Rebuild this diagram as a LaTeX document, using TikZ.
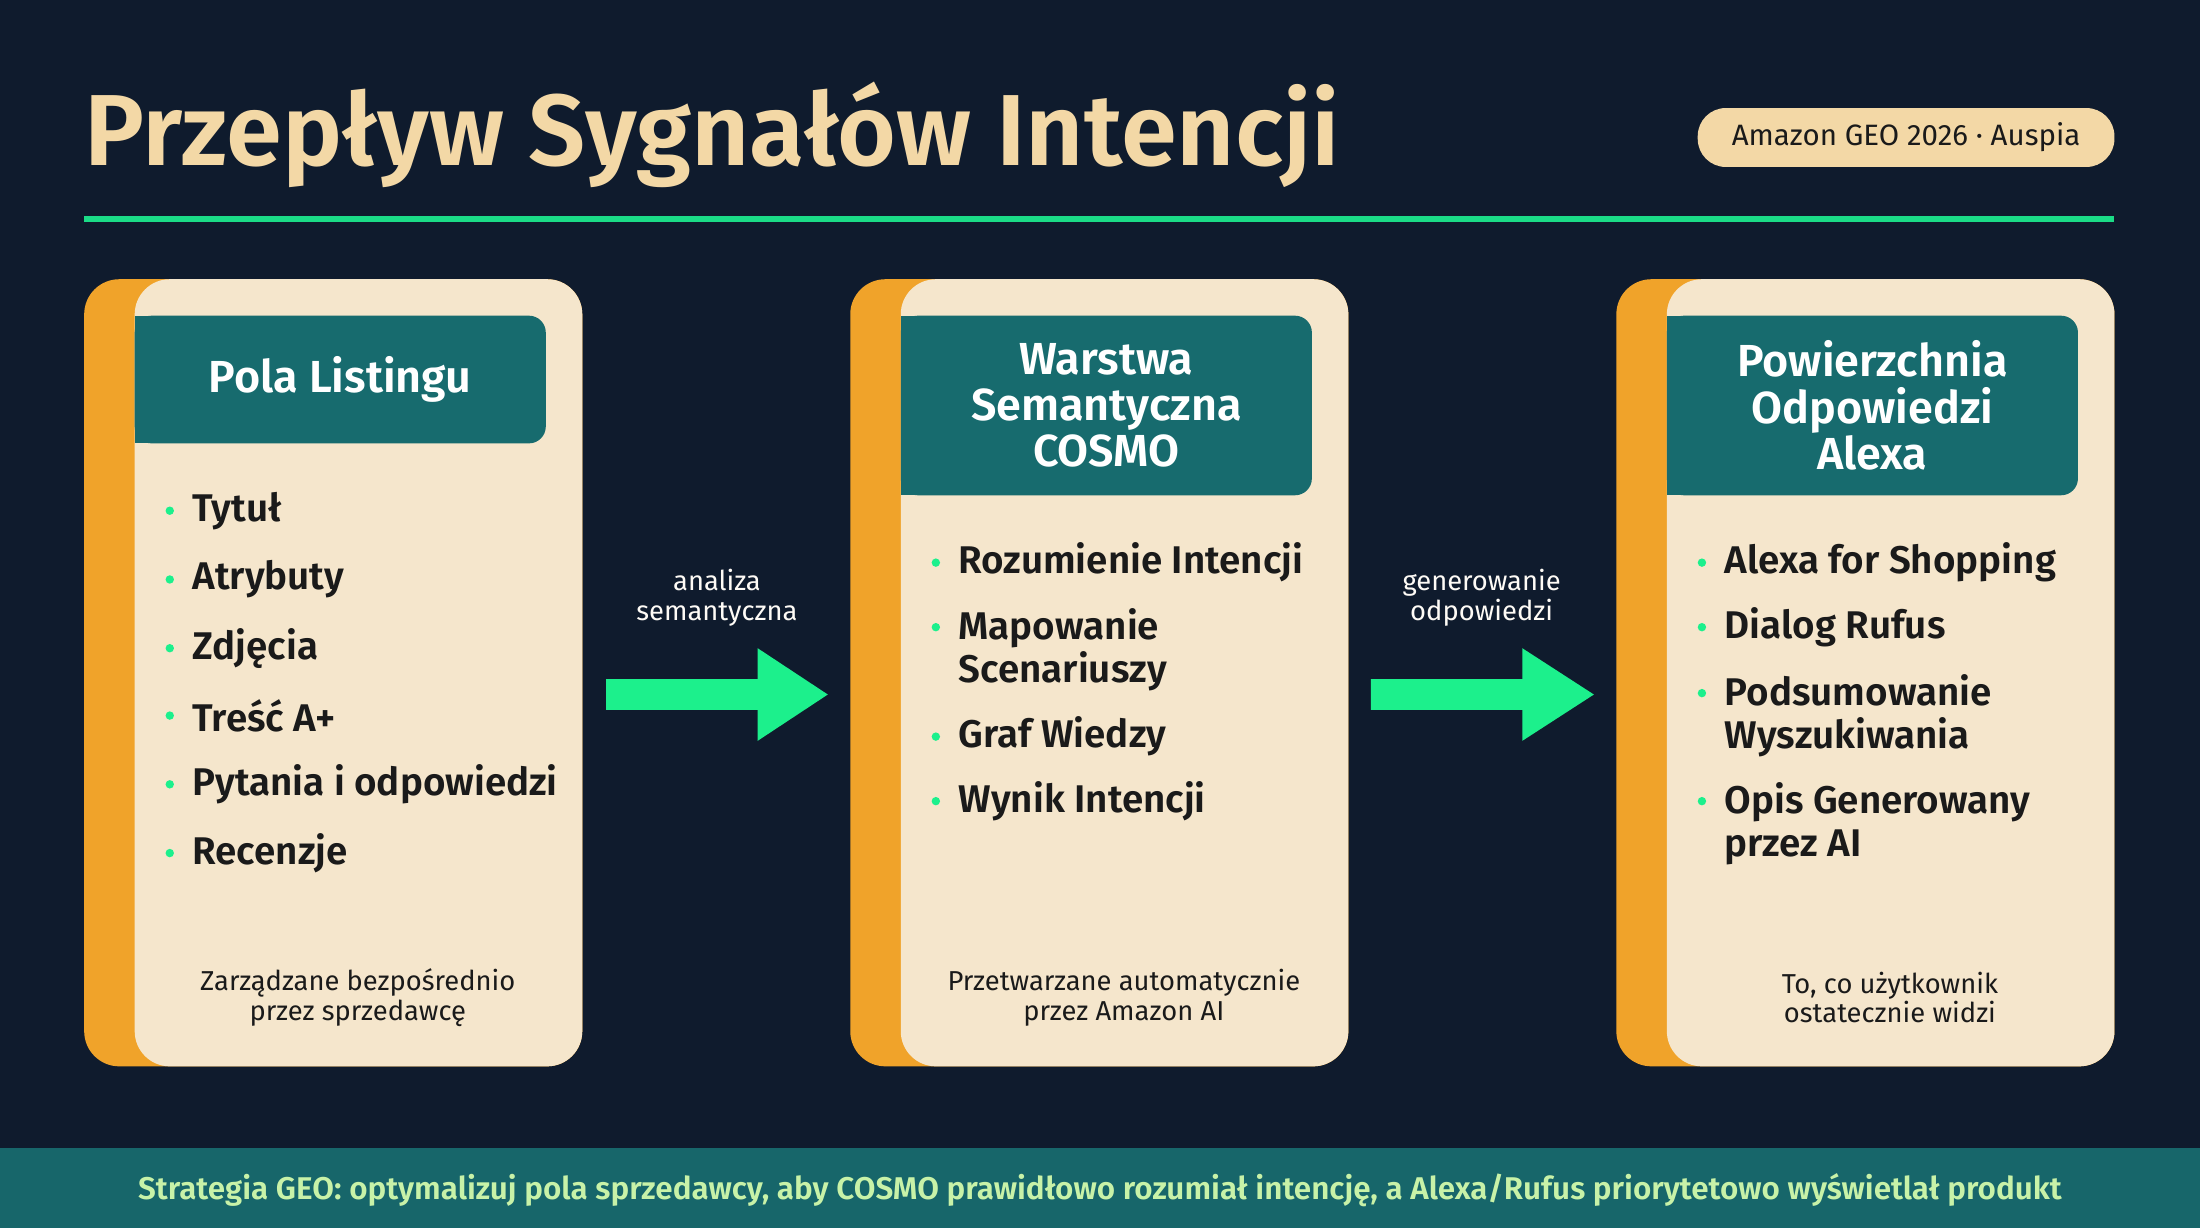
\documentclass[tikz,border=0pt]{standalone}
\usepackage{fontspec}
\setmainfont{Fira Sans}[BoldFont={Fira Sans SemiBold}]
\usetikzlibrary{positioning}
\definecolor{bg}{HTML}{0F1B2D}
\definecolor{cream}{HTML}{F5E6CC}
\definecolor{titlec}{HTML}{F3D8A6}
\definecolor{orangec}{HTML}{F0A32A}
\definecolor{tealc}{HTML}{176B6E}
\definecolor{greenc}{HTML}{1CF08C}
\definecolor{dark}{HTML}{1A1A1A}
\definecolor{band}{HTML}{17666A}
\definecolor{bandtxt}{HTML}{C8F2A8}
\tikzset{
  x=1pt,y=-1pt,
  item/.style={anchor=north west,align=left,text=dark,font=\fontsize{27.5}{32}\selectfont\bfseries,inner sep=0pt},
  dot/.style={circle,fill=greenc,minimum size=6pt,inner sep=0pt},
  hdr/.style={text=white,font=\fontsize{32}{36}\selectfont\bfseries,align=center},
  foot/.style={text=dark,font=\fontsize{19.5}{23}\selectfont,align=center},
  lbl/.style={text=white!90!titlec,font=\fontsize{19.5}{23}\selectfont,align=center},
  arr/.style={fill=greenc}
}
\newcommand{\card}[2]{%
  \fill[orangec,rounded corners=25] (#1,199) rectangle (#1+355,760);
  \fill[cream,rounded corners=25] (#1+36,199) rectangle (#1+355,760);
  \fill[tealc,rounded corners=12] (#1+36,225) rectangle (#1+329,#2);
  \fill[tealc] (#1+36,225) rectangle (#1+60,#2);
}
\begin{document}
\begin{tikzpicture}
\fill[bg] (0,0) rectangle (1568,875);
\node[anchor=base west,inner sep=0pt,text=titlec,font=\fontsize{72}{78}\selectfont\bfseries] (title) at (60,118) {Przepływ Sygnałów Intencji};
\node[fill=titlec,rounded corners=20,minimum width=297pt,minimum height=42pt,text=dark,font=\fontsize{21}{24}\selectfont] (badge) at (1358.5,98) {Amazon GEO 2026 · Auspia};
\draw[greenc!85!tealc,line width=4pt] (60,156) -- (1507,156);
% cards
\card{60}{316}
\card{606}{353}
\card{1152}{353}
\node[hdr] (h1) at (242.5,270.5) {Pola Listingu};
\node[hdr] (h2) at (788.5,289) {Warstwa\\[-3pt]Semantyczna\\[-3pt]COSMO};
\node[hdr] (h3) at (1334.5,289) {Powierzchnia\\[-3pt]Odpowiedzi\\[-3pt]Alexa};
% items card1
\foreach \t/\y [count=\i] in {Tytuł/364,Atrybuty/413,Zdjęcia/462,Treść A+/510,Pytania i odpowiedzi/559,Recenzje/608}{
  \node[dot] (d1\i) at (121,\y) {};
  \node[item,anchor=west] (a1\i) at (137,\y) {\t};
}
% card2
\node[dot] (d21) at (667,401) {}; \node[item,anchor=west] (a21) at (683,401) {Rozumienie Intencji};
\node[dot] (d22) at (667,447) {}; \node[item,anchor=west] (a22) at (683,463) {Mapowanie\\[-1pt]Scenariuszy};
\node[dot] (d23) at (667,525) {}; \node[item,anchor=west] (a23) at (683,525) {Graf Wiedzy};
\node[dot] (d24) at (667,571) {}; \node[item,anchor=west] (a24) at (683,571) {Wynik Intencji};
% card3
\node[dot] (d31) at (1213,401) {}; \node[item,anchor=west] (a31) at (1229,401) {Alexa for Shopping};
\node[dot] (d32) at (1213,447) {}; \node[item,anchor=west] (a32) at (1229,447) {Dialog Rufus};
\node[dot] (d33) at (1213,494) {}; \node[item,anchor=west] (a33) at (1229,510) {Podsumowanie\\[-1pt]Wyszukiwania};
\node[dot] (d34) at (1213,571) {}; \node[item,anchor=west] (a34) at (1229,587) {Opis Generowany\\[-1pt]przez AI};
% footers
\node[foot] (f1) at (255,711) {Zarządzane bezpośrednio\\[-2pt]przez sprzedawcę};
\node[foot] (f2) at (801,711) {Przetwarzane automatycznie\\[-2pt]przez Amazon AI};
\node[foot] (f3) at (1347,711) {To, co użytkownik\\[-2pt]ostatecznie widzi};
% arrows
\fill[arr] (432,484) -- (540,484) -- (540,462) -- (590,495) -- (540,528) -- (540,506) -- (432,506) -- cycle;
\fill[arr] (977,484) -- (1085,484) -- (1085,462) -- (1136,495) -- (1085,528) -- (1085,506) -- (977,506) -- cycle;
\node[lbl] (l1) at (511,426) {analiza\\[-2pt]semantyczna};
\node[lbl] (l2) at (1056,426) {generowanie\\[-2pt]odpowiedzi};
% band
\fill[band] (0,818) rectangle (1568,875);
\node[text=bandtxt,font=\fontsize{22.4}{26}\selectfont\bfseries] (strat) at (784,848) {Strategia GEO: optymalizuj pola sprzedawcy, aby COSMO prawidłowo rozumiał intencję, a Alexa/Rufus priorytetowo wyświetlał produkt};
\end{tikzpicture}
\end{document}
